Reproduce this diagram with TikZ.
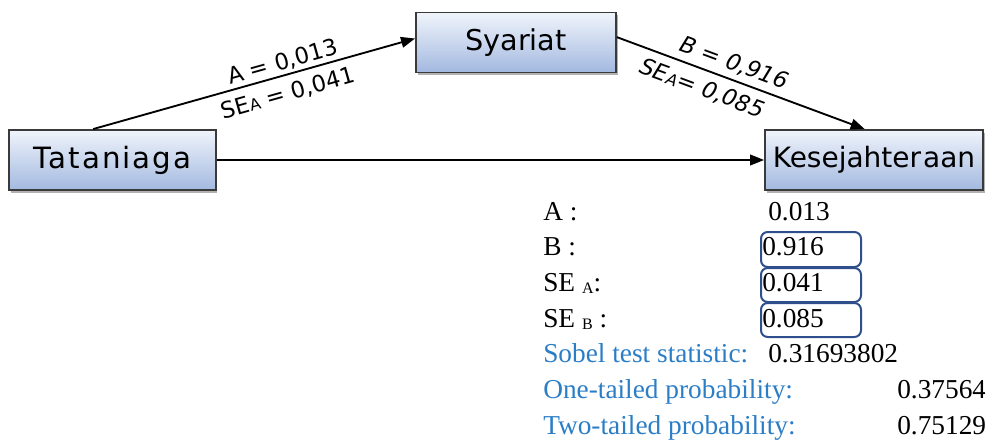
\documentclass[tikz,border=0pt]{standalone}
\usepackage{fontspec}
\setmainfont{Liberation Serif}
\newfontfamily\boxfont{DejaVu Sans}
\usetikzlibrary{arrows.meta,shadows}
\definecolor{boxtop}{HTML}{F0F4FB}
\definecolor{boxbot}{HTML}{A3B9E0}
\definecolor{boxline}{HTML}{3A3A3A}
\definecolor{statblue}{HTML}{2B7DC6}
\definecolor{valline}{HTML}{2F4F8C}
\begin{document}
\begin{tikzpicture}[x=0.75pt,y=-0.75pt,
  varbox/.style={draw=boxline,line width=1.4pt,top color=boxtop,bottom color=boxbot,
    minimum height=45pt,inner sep=0pt,
    font=\boxfont\fontsize{21.5pt}{24pt}\selectfont,
    drop shadow={shadow xshift=1.2pt,shadow yshift=-2pt,fill=black!30,opacity=1}},
  path/.style={line width=1.4pt,-{Triangle[length=10.5pt,width=8pt]}},
  coef/.style={font=\boxfont\fontsize{17pt}{19pt}\selectfont,sloped,inner sep=1pt},
  coefi/.style={coef,font=\boxfont\itshape\fontsize{17pt}{19pt}\selectfont},
  lab/.style={anchor=base west,inner sep=0pt,font=\fontsize{20.5pt}{24pt}\selectfont},
  stat/.style={lab,text=statblue},
  valbox/.style={draw=valline,line width=1.5pt,rounded corners=5pt}]
\useasboundingbox (0,0) rectangle (985,439);

% model variables
\node[varbox,minimum width=155pt] (tat) at (112.5,160)
  {\addfontfeatures{LetterSpace=7}\fontsize{22pt}{24pt}\selectfont Tataniaga};
\node[varbox,minimum width=150pt] (sya) at (516,42.5) {Syariat};
\node[varbox,minimum width=163.5pt] (kes) at (874,160)
  {\fontsize{21pt}{24pt}\selectfont Kesejahter\kern1.5pt aan};

% paths with coefficients
\draw[path] ([xshift=-14.5pt]tat.north) -- ([yshift=3pt]sya.west)
  node[coef,pos=0.6,above=0.5pt] {A = 0,013}
  node[coef,pos=0.59,below=5pt] {SE{\fontsize{12pt}{13pt}\selectfont A} = 0,041};
\draw[path] ([yshift=4pt]sya.east) -- ([xshift=-7pt]kes.north)
  node[coefi,pos=0.45,above=3pt] {B = 0,916}
  node[coefi,pos=0.37,below=5pt] {SE\raisebox{-1pt}{\fontsize{12pt}{13pt}\selectfont A}= 0,085};
\draw[path] (tat.east) -- (kes.west);

% Sobel test results
\node[lab] (la) at (543,220) {A :};
\node[lab] (va) at (768,220) {0.013};
\node[lab] (lb) at (543,255) {B :};
\node[lab] (vb) at (762,255) {0.916};
\node[lab] (lsa) at (543,291) {SE \raisebox{-1.5pt}{\fontsize{12pt}{14pt}\selectfont A}:};
\node[lab] (vsa) at (762,291) {0.041};
\node[lab] (lsb) at (543,327) {SE \raisebox{-1.5pt}{\fontsize{12pt}{14pt}\selectfont B} :};
\node[lab] (vsb) at (762,327) {0.085};
\node[stat] (lsob) at (543,362) {Sobel test statistic:};
\node[lab] (vsob) at (768,362) {0.31693802};
\node[stat] (lone) at (543,398) {One-tailed probability:};
\node[lab] (vone) at (897,398) {0.37564};
\node[stat] (ltwo) at (543,434) {Two-tailed probability:};
\node[lab] (vtwo) at (897,434) {0.75129};

% highlighted values
\draw[valbox] (761,232) rectangle (861,267);
\draw[valbox] (761,268) rectangle (861,302);
\draw[valbox] (761,303) rectangle (861,337);
\end{tikzpicture}
\end{document}
